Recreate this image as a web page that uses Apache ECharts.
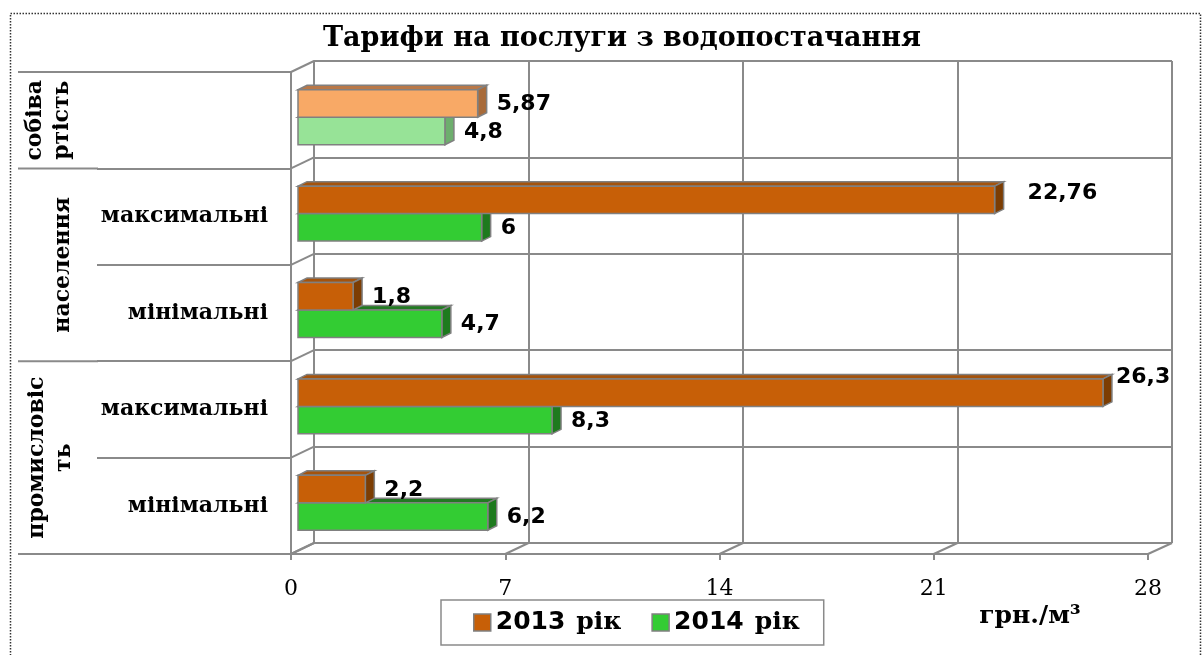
<!DOCTYPE html>
<html>
<head>
<meta charset="utf-8">
<script src="https://cdn.jsdelivr.net/npm/echarts@6/dist/echarts.min.js"></script>
<style>
  html, body { margin: 0; padding: 0; background: #fff; }
  #chart { width: 1203px; height: 655px; }
</style>
</head>
<body>
<div id="chart"></div>
<script>
// Tariff data, UAH per cubic metre
const rowLabels = ['', 'максимальні', 'мінімальні', 'максимальні', 'мінімальні'];
const groupLabels = ['собіва\nртість', 'населення', 'промисловіс\nть'];
const groupRows = [[0, 0], [1, 2], [3, 4]];
const seriesNames = ['2013 рік', '2014 рік'];
const tariff2013 = [5.87, 22.76, 1.8, 26.3, 2.2];
const tariff2014 = [4.8, 6, 4.7, 8.3, 6.2];
const xTicks = [0, 7, 14, 21, 28];
const unitLabel = 'грн./м³';
const titleText = 'Тарифи на послуги з водопостачання';

// Colours: [front, top, side] per series; first row uses the lighter shades
const palette = {
  normal: [
    { front: '#C75F07', top: '#A4530C', side: '#7C3D03' },
    { front: '#33CC33', top: '#227A22', side: '#1E7A1E' }
  ],
  light: [
    { front: '#F8A966', top: '#B97848', side: '#A86B3A' },
    { front: '#97E397', top: '#78BE78', side: '#6DAE6D' }
  ]
};
const GRID_COLOR = '#8A8A8A';
const EDGE = '#808080';
const SERIF = '"DejaVu Serif", serif';
const SANS = '"DejaVu Sans", sans-serif';

// Offset of the bar's top/side faces
const DEPTH_DX = 9, DEPTH_DY = -4.5;
// Data-label nudges for the two longest bars
const labelNudge = { '0-1': [14, -8], '0-3': [-6, -16] };

const fmt = v => String(v).replace('.', ',');

function makeRender(si) {
  return function (params, api) {
    const cat = api.value(1);
    const val = api.value(0);
    const base = api.coord([0, cat]);
    const end = api.coord([val, cat]);
    const band = api.size([0, 1])[1];
    const h = band * 0.285;
    const y0 = si === 0 ? base[1] - h : base[1];
    const x0 = base[0], x1 = end[0];
    const col = (cat === 0 ? palette.light : palette.normal)[si];
    const lw = 1.5;
    const nud = labelNudge[si + '-' + cat] || [0, 0];
    return {
      type: 'group',
      children: [
        { type: 'polygon', shape: { points: [[x0, y0], [x0 + DEPTH_DX, y0 + DEPTH_DY], [x1 + DEPTH_DX, y0 + DEPTH_DY], [x1, y0]] },
          style: { fill: col.top, stroke: EDGE, lineWidth: lw } },
        { type: 'polygon', shape: { points: [[x1, y0], [x1 + DEPTH_DX, y0 + DEPTH_DY], [x1 + DEPTH_DX, y0 + h + DEPTH_DY], [x1, y0 + h]] },
          style: { fill: col.side, stroke: EDGE, lineWidth: lw } },
        { type: 'rect', shape: { x: x0, y: y0, width: x1 - x0, height: h },
          style: { fill: col.front, stroke: EDGE, lineWidth: lw } },
        { type: 'text', x: x1 + DEPTH_DX + 10 + nud[0], y: y0 + h / 2 + 1 + nud[1],
          style: { text: fmt(val), font: 'bold 22px ' + SANS, fill: '#000', verticalAlign: 'middle', align: 'left' } }
      ]
    };
  };
}

const chart = echarts.init(document.getElementById('chart'), null, { renderer: 'canvas' });

const valueAxisBase = { type: 'value', min: xTicks[0], max: xTicks[xTicks.length - 1], interval: xTicks[1] - xTicks[0] };
const catAxisBase = { type: 'category', data: rowLabels, inverse: true };

chart.setOption({
  animation: false,
  backgroundColor: '#fff',
  title: {
    text: titleText, left: 617, top: 20, textAlign: 'center',
    textStyle: { fontFamily: SERIF, fontWeight: 'bold', fontSize: 27, color: '#000' }
  },
  legend: {
    data: seriesNames,
    left: 441, top: 600,
    orient: 'horizontal',
    itemWidth: 17, itemHeight: 17, itemGap: 30,
    padding: [10, 24, 10, 32],
    borderColor: GRID_COLOR, borderWidth: 1.5,
    icon: 'rect',
    itemStyle: { borderColor: EDGE, borderWidth: 1.5 },
    formatter: name => { const p = name.split(' '); return '{n|' + p[0] + '}{s|}{r|' + p[1] + '}'; },
    textStyle: {
      padding: [0, 0, 0, 0],
      rich: {
        n: { fontFamily: SANS, fontWeight: 'bold', fontSize: 25, color: '#000' },
        s: { width: 11 },
        r: { fontFamily: SERIF, fontWeight: 'bold', fontSize: 25, color: '#000' }
      }
    }
  },
  grid: [
    { left: 291, right: 55, top: 72, bottom: 101 },   // front plane
    { left: 314, right: 31, top: 61, bottom: 112 },   // back wall
    { left: 298, right: 48, top: 69, bottom: 104 }    // bar depth plane
  ],
  xAxis: [
    Object.assign({}, valueAxisBase, {
      gridIndex: 0,
      axisLine: { show: true, lineStyle: { color: GRID_COLOR, width: 2 } },
      axisTick: { show: true, length: 6, lineStyle: { color: GRID_COLOR, width: 2 } },
      axisLabel: { fontFamily: SERIF, fontSize: 22, color: '#000', margin: 24 },
      splitLine: { show: false }
    }),
    Object.assign({}, valueAxisBase, {
      gridIndex: 1,
      axisLine: { show: false }, axisTick: { show: false }, axisLabel: { show: false },
      splitLine: { show: true, lineStyle: { color: GRID_COLOR, width: 2 } }
    }),
    Object.assign({}, valueAxisBase, { gridIndex: 2, show: false })
  ],
  yAxis: [
    Object.assign({}, catAxisBase, {
      gridIndex: 0,
      axisLine: { show: true, lineStyle: { color: GRID_COLOR, width: 2 } },
      axisTick: { show: true, length: 194, lineStyle: { color: GRID_COLOR, width: 2 } },
      axisLabel: { fontFamily: SERIF, fontWeight: 'bold', fontSize: 22, color: '#000', margin: 23 },
      splitLine: { show: false }
    }),
    Object.assign({}, catAxisBase, {
      gridIndex: 1,
      axisLine: { show: true, lineStyle: { color: GRID_COLOR, width: 2 } },
      axisTick: { show: false }, axisLabel: { show: false },
      splitLine: { show: true, interval: 0, lineStyle: { color: GRID_COLOR, width: 2 } }
    }),
    Object.assign({}, catAxisBase, { gridIndex: 2, show: false })
  ],
  series: [
    {
      name: seriesNames[0], type: 'custom', xAxisIndex: 2, yAxisIndex: 2, z: 4,
      itemStyle: { color: palette.normal[0].front, borderColor: EDGE },
      renderItem: makeRender(0),
      encode: { x: 0, y: 1 },
      data: tariff2013.map((v, i) => [v, i])
    },
    {
      name: seriesNames[1], type: 'custom', xAxisIndex: 2, yAxisIndex: 2, z: 3,
      itemStyle: { color: palette.normal[1].front, borderColor: EDGE },
      renderItem: makeRender(1),
      encode: { x: 0, y: 1 },
      data: tariff2014.map((v, i) => [v, i])
    }
  ]
});

// Depth connectors, group separators and group captions, placed from the axes
(function addFrame() {
  const line = (x1, y1, x2, y2) => ({
    type: 'line', silent: true, z: 1,
    shape: { x1, y1, x2, y2 },
    style: { stroke: GRID_COLOR, lineWidth: 2 }
  });
  const rowCenter = (g, i) => chart.convertToPixel({ xAxisIndex: g, yAxisIndex: g }, [0, i]);
  const bandF = rowCenter(0, 1)[1] - rowCenter(0, 0)[1];
  const bandB = rowCenter(1, 1)[1] - rowCenter(1, 0)[1];
  const frontX0 = rowCenter(0, 0)[0];
  const backX0 = rowCenter(1, 0)[0];
  const boundF = i => rowCenter(0, 0)[1] - bandF / 2 + i * bandF;
  const boundB = i => rowCenter(1, 0)[1] - bandB / 2 + i * bandB;
  const els = [];

  // left wall diagonals
  for (let i = 0; i <= rowLabels.length; i++) {
    els.push(line(frontX0, boundF(i), backX0, boundB(i)));
  }
  // floor diagonals
  const floorF = boundF(rowLabels.length), floorB = boundB(rowLabels.length);
  xTicks.forEach(t => {
    const xf = chart.convertToPixel({ xAxisIndex: 0, yAxisIndex: 0 }, [t, 0])[0];
    const xb = chart.convertToPixel({ xAxisIndex: 1, yAxisIndex: 1 }, [t, 0])[0];
    els.push(line(xf, floorF, xb, floorB));
  });
  // outer separators between groups
  const groupEdges = [0];
  groupRows.forEach(r => groupEdges.push(r[1] + 1));
  groupEdges.forEach(i => els.push(line(18, boundF(i), 98, boundF(i))));

  // rotated group captions
  const captionX = [49, 63, 51];
  groupLabels.forEach((txt, gi) => {
    const r = groupRows[gi];
    const yc = (boundF(r[0]) + boundF(r[1] + 1)) / 2;
    els.push({
      type: 'text', silent: true, z: 5,
      x: captionX[gi], y: yc, rotation: Math.PI / 2,
      style: { text: txt, font: 'bold 22px ' + SERIF, fill: '#000', align: 'center', verticalAlign: 'middle', lineHeight: 27 }
    });
  });

  // unit caption under the value axis
  els.push({
    type: 'text', silent: true, z: 5, x: 1030, y: 616,
    style: { text: unitLabel, font: 'bold 25px ' + SERIF, fill: '#000', align: 'center', verticalAlign: 'middle' }
  });

  // dotted outer frame
  els.push({
    type: 'rect', silent: true, z: 0,
    shape: { x: 10.5, y: 13.5, width: 1190, height: 700 },
    style: { fill: 'none', stroke: '#333', lineWidth: 1.5, lineDash: [1.5, 1.5] }
  });

  chart.setOption({ graphic: els });
})();
</script>
</body>
</html>
